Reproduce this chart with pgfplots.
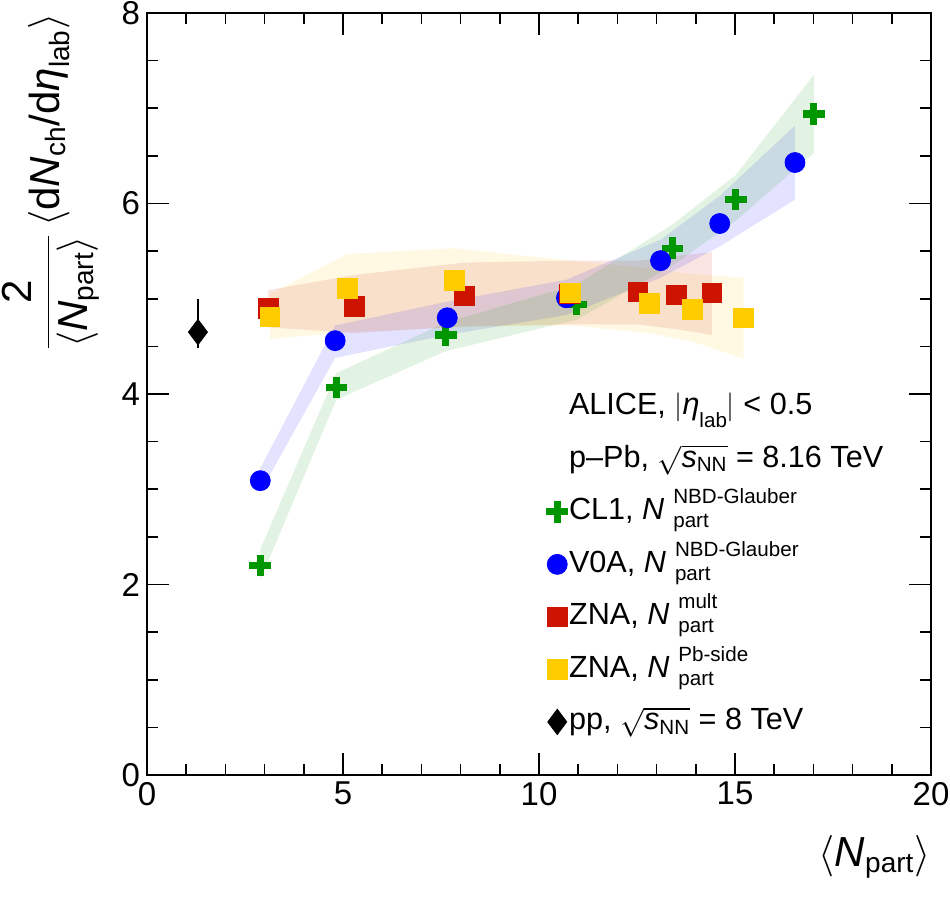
\documentclass[border=0pt]{standalone}
\usepackage{fontspec}
\setmainfont{Liberation Sans}
\usepackage{pgfplots}
\pgfplotsset{compat=1.18}
\definecolor{cgreen}{RGB}{0,150,0}
\definecolor{cblue}{RGB}{0,0,255}
\definecolor{cred}{RGB}{205,20,0}
\definecolor{cyel}{RGB}{255,204,0}
\newcommand{\lsub}{\fontsize{10.3}{11}\selectfont}
\newcommand{\asub}{\fontsize{14}{15}\selectfont}
\newcommand{\Npart}[1]{\textit{N}\hspace{4.5pt}\rlap{\raisebox{8pt}{\lsub #1}}\raisebox{-4pt}{\lsub part}}
\pgfplotsset{myleg/.style={legend image code/.code={\draw[##1] plot coordinates {(0pt,0pt)};}}}
\begin{document}
\begin{tikzpicture}
\begin{axis}[name=ax, scale only axis, width=392pt, height=381pt,
  xmin=0, xmax=20, ymin=0, ymax=8,
  xtick={0,5,10,15,20}, ytick={0,2,4,6,8},
  minor x tick num=4, minor y tick num=3,
  tick align=inside, major tick length=11pt, minor tick length=5.5pt,
  axis line style={line width=0.8pt},
  every tick/.append style={line width=0.8pt, black},
  /pgf/number format/assume math mode=true,
  ticklabel style={font=\fontsize{16.5}{18}\selectfont},
  xlabel={$\left\langle\mbox{\textit{N}}_{\mbox{\asub part}}\right\rangle$},
  xlabel style={at={(axis description cs:1,0)}, anchor=north east, yshift=-30pt, inner sep=0pt, font=\fontsize{21}{24}\selectfont},
  ylabel={$\displaystyle\frac{\mbox{2}}{\left\langle\mbox{\textit{N}}_{\mbox{\asub part}}\right\rangle}\left\langle\mbox{d\textit{N}}_{\mbox{\asub ch}}\mbox{/d\textit{η}}_{\mbox{\asub lab}}\right\rangle$},
  ylabel style={at={(axis description cs:-0.06,1)}, anchor=south east, inner sep=0pt, font=\fontsize{21}{24}\selectfont},
  legend style={at={(axis cs:10.18,4.10)}, anchor=north west, draw=none, fill=none, inner sep=0pt, row sep=4.25pt,
    font=\fontsize{15.3}{18}\selectfont, nodes={inner xsep=0.5pt, inner ysep=2pt, text height=13pt, text depth=5pt}},
  legend cell align=left,
]
\addlegendimage{empty legend}
\addlegendentry{ALICE, $|$\textit{η}\raisebox{-6.5pt}{\lsub lab}$|$ < 0.5}
\addlegendimage{empty legend}
\addlegendentry{p–Pb, $\sqrt{\mbox{\textit{s}}_{\mbox{\lsub NN}}}$ = 8.16 TeV}

% systematic bands
\addplot[draw=none, fill=cyel, fill opacity=0.11, forget plot] coordinates {
 (3.14,5.05) (5.11,5.47) (7.82,5.53) (10.80,5.40) (12.82,5.32) (13.92,5.26) (15.22,5.22)
 (15.22,4.37) (13.92,4.55) (12.82,4.64) (10.80,4.72) (7.82,4.70) (5.11,4.65) (3.14,4.58)};
\addplot[draw=none, fill=cred, fill opacity=0.11, forget plot] coordinates {
 (3.09,5.09) (5.29,5.25) (8.10,5.38) (10.78,5.40) (12.52,5.40) (13.51,5.45) (14.41,5.49)
 (14.41,4.62) (13.51,4.68) (12.52,4.73) (10.78,4.73) (8.10,4.71) (5.29,4.64) (3.09,4.70)};
\addplot[draw=none, fill=cblue, fill opacity=0.11, forget plot] coordinates {
 (2.89,3.22) (4.80,4.72) (7.66,4.97) (10.70,5.20) (13.10,5.62) (14.61,6.08) (16.53,6.82)
 (16.53,6.04) (14.61,5.55) (13.10,5.22) (10.70,4.83) (7.66,4.62) (4.80,4.38) (2.89,2.97)};
\addplot[draw=none, fill=cgreen, fill opacity=0.11, forget plot] coordinates {
 (2.89,2.37) (4.83,4.22) (7.62,4.75) (10.96,5.15) (13.41,5.78) (15.02,6.30) (17.01,7.35)
 (17.01,6.53) (15.02,5.82) (13.41,5.35) (10.96,4.78) (7.62,4.45) (4.83,3.94) (2.89,2.05)};

% data points
\addplot[only marks, myleg, mark=+, mark size=5.4pt, cgreen, line width=3.6pt] coordinates {
 (2.89,2.20) (4.83,4.07) (7.62,4.62) (10.96,4.94) (13.41,5.53) (15.02,6.04) (17.01,6.94)};
\addlegendentry{CL1, \Npart{NBD-Glauber}}
\addplot[only marks, myleg, mark=*, mark size=5pt, cblue] coordinates {
 (2.89,3.09) (4.80,4.56) (7.66,4.80) (10.70,5.01) (13.10,5.40) (14.61,5.79) (16.53,6.43)};
\addlegendentry{V0A, \Npart{NBD-Glauber}}
\addplot[only marks, myleg, mark=square*, mark size=4.9pt, cred] coordinates {
 (3.09,4.90) (5.29,4.92) (8.10,5.03) (10.78,5.05) (12.52,5.07) (13.51,5.04) (14.41,5.06)};
\addlegendentry{ZNA, \Npart{mult}}
\addplot[only marks, myleg, mark=square*, mark size=4.9pt, cyel] coordinates {
 (3.14,4.81) (5.11,5.11) (7.84,5.19) (10.80,5.06) (12.82,4.95) (13.92,4.89) (15.22,4.80)};
\addlegendentry{ZNA, \Npart{Pb-side}}
\addplot[only marks, myleg, mark=diamond*, mark size=6.4pt, black, line width=0.7pt,
  mark options={line width=0.3pt},
  error bars/.cd, y dir=both, y explicit, error mark=none,
  error bar style={line width=0.7pt}] coordinates {
 (1.30,4.65) += (0,0.345) -= (0,0.17)};
\addlegendentry{pp, $\sqrt{\mbox{\textit{s}}_{\mbox{\lsub NN}}}$ = 8 TeV}
\end{axis}
\pgfresetboundingbox
\path[use as bounding box] ([shift={(-73.5pt,-61.5pt)}]ax.south west) rectangle ([shift={(9.5pt,6.5pt)}]ax.north east);
\end{tikzpicture}
\end{document}
